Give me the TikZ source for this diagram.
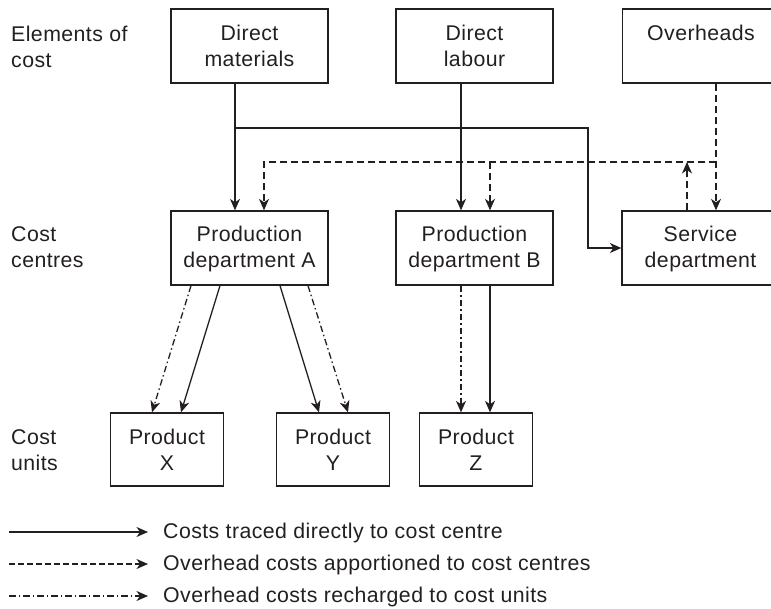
\documentclass[tikz,border=0pt]{standalone}
\usepackage{fontspec}
\setmainfont{Liberation Sans}[LetterSpace=2]
\usetikzlibrary{arrows.meta}
\definecolor{ink}{RGB}{35,31,32}
% struts that fix the height of the first line and the depth of the last one
\newcommand\tst{\rule{0pt}{18pt}}
\newcommand\bst{\rule[-3pt]{0pt}{3pt}}
\begin{document}
\begin{tikzpicture}[x=1pt,y=-1pt,
  font=\fontsize{21.3}{26}\selectfont,
  every node/.style={text=ink},
  box/.style={draw=ink,line width=1.3pt,align=center,inner sep=0pt,
              minimum width=157pt,minimum height=74pt},
  pbox/.style={box,minimum width=113pt,minimum height=73pt},
  lbl/.style={anchor=west,align=left,inner sep=0pt},
  tip/.style={-{Stealth[length=11.5pt,width=10pt,inset=3.5pt]}},
  conn/.style={draw=ink,line width=1.3pt},
  solidline/.style={conn,tip},
  dashline/.style={conn,tip,dash pattern=on 7pt off 4pt},
  ddline/.style={conn,tip,dash pattern=on 6.5pt off 3pt on 1.5pt off 3pt},
  legtext/.style={anchor=base west,inner sep=0pt}]
\useasboundingbox (0,0) rectangle (771,609);
\clip (0,0) rectangle (771,609);

% row labels
\node[lbl] (r1) at (11,47.5) {\tst Elements of\\cost\bst};
\node[lbl] (r2) at (11,247.5) {\tst Cost\\centres\bst};
\node[lbl] (r3) at (11,449.5) {\tst Cost\\units\bst};

% elements of cost
\node[box] (dm) at (249.5,46) {\tst Direct\\materials\bst};
\node[box] (dl) at (474.5,46) {\tst Direct\\labour\bst};
\node[box] (oh) at (701,46) {\tst Overheads\\\bst};

% cost centres
\node[box] (pa) at (249.5,248) {\tst Production\\department A\bst};
\node[box] (pb) at (474.5,248) {\tst Production\\department B\bst};
\node[box] (sd) at (700.5,248) {\tst Service\\department\bst};

% cost units
\node[pbox] (px) at (167,449.5) {\tst Product\\X\bst};
\node[pbox] (py) at (333,449.5) {\tst Product\\Y\bst};
\node[pbox] (pz) at (476,449.5) {\tst Product\\Z\bst};

% junctions on the feeder lines
\coordinate (jm) at (235,128);
\coordinate (jbend) at (588,248);
\coordinate (jo) at (716,162);
\coordinate (jb) at (490,162);
\coordinate (jsd) at (687,162);

% direct costs
\draw[solidline] (235,0 |- dm.south) -- (235,0 |- pa.north);
\draw[solidline] (jm) -| (jbend) -- (sd.west);
\draw[solidline] (461,0 |- dl.south) -- (461,0 |- pb.north);

% overheads apportioned
\draw[dashline] (716,0 |- oh.south) -- (716,0 |- sd.north);
\draw[dashline] (jo) -| (264,0 |- pa.north);
\draw[dashline] (jb) -- (490,0 |- pb.north);
\draw[dashline] (687,0 |- sd.north) -- (jsd);

% production department A to products
\draw[ddline] (191,0 |- pa.south) -- (152,0 |- px.north);
\draw[solidline] (220,0 |- pa.south) -- (181,0 |- px.north);
\draw[solidline] (280,0 |- pa.south) -- (319,0 |- py.north);
\draw[ddline] (308,0 |- pa.south) -- (348,0 |- py.north);

% production department B to product Z
\draw[ddline] (461,0 |- pb.south) -- (461,0 |- pz.north);
\draw[solidline] (490,0 |- pb.south) -- (490,0 |- pz.north);

% key
\coordinate (k1a) at (9,532);   \coordinate (k1b) at (148,532);
\coordinate (k2a) at (9,564);   \coordinate (k2b) at (148,564);
\coordinate (k3a) at (9,596);   \coordinate (k3b) at (148,596);
\draw[solidline] (k1a) -- (k1b);
\draw[dashline,dash pattern=on 5.5pt off 3.5pt] (k2a) -- (k2b);
\draw[ddline] (k3a) -- (k3b);
\node[legtext] (t1) at (163,538) {Costs traced directly to cost centre};
\node[legtext] (t2) at (163,570) {Overhead costs apportioned to cost centres};
\node[legtext] (t3) at (163,602) {Overhead costs recharged to cost units};
\end{tikzpicture}
\end{document}
